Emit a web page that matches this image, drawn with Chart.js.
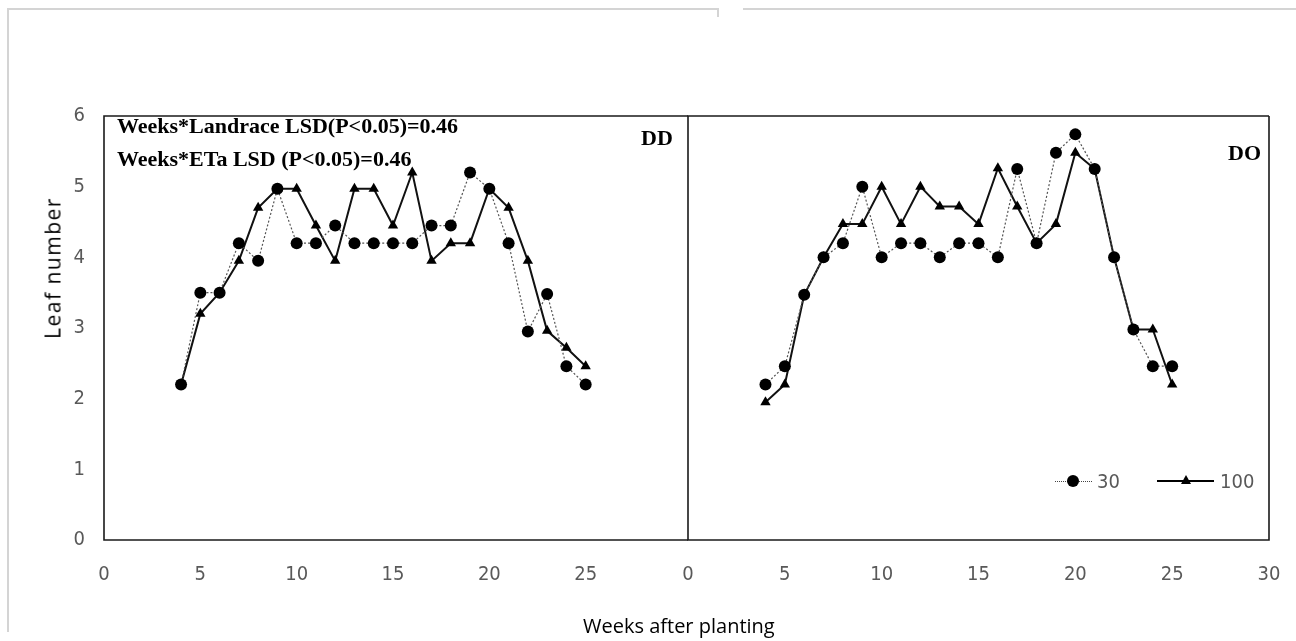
<!DOCTYPE html>
<html>
<head>
<meta charset="utf-8">
<script src="https://cdn.jsdelivr.net/npm/chart.js@4.4.1/dist/chart.umd.min.js"></script>
<style>
  html, body { margin: 0; padding: 0; background: #fff; }
  #page { position: relative; width: 1296px; height: 641px; overflow: hidden; }
  canvas { position: absolute; top: 0; }
  #left-canvas { left: 0; }
  #right-canvas { left: 680px; }
  .frame { position: absolute; background: #d4d4d4; }
  .note { position: absolute; font-family: "Liberation Serif", "Times New Roman", serif; font-weight: bold; color: #000; white-space: nowrap; line-height: 1; }
  .axis-title { position: absolute; font-family: "Open Sans", sans-serif; color: #000; white-space: nowrap; line-height: 1; }
  .legend-text { position: absolute; font-family: "Liberation Sans Narrow", "DejaVu Sans Condensed", sans-serif; font-size: 20px; color: #595959; line-height: 1; }
</style>
</head>
<body>
<div id="page">
  <div class="frame" style="left:7px; top:8px; width:712px; height:2px;"></div>
  <div class="frame" style="left:717px; top:8px; width:2px; height:9px;"></div>
  <div class="frame" style="left:743px; top:8px; width:553px; height:2px;"></div>
  <div class="frame" style="left:7px; top:8px; width:2px; height:624px;"></div>

  <canvas id="left-canvas" width="688" height="641"></canvas>
  <canvas id="right-canvas" width="616" height="641"></canvas>

  <div class="note" style="left:117px; top:115px; font-size:22px;">Weeks*Landrace LSD(P&lt;0.05)=0.46</div>
  <div class="note" style="left:117px; top:148px; font-size:22px;">Weeks*ETa LSD (P&lt;0.05)=0.46</div>
  <div class="note" style="left:641px; top:127px; font-size:22px;">DD</div>
  <div class="note" style="left:1228px; top:142px; font-size:22px;">DO</div>

  <div class="axis-title" style="left:583px; top:616px; font-size:20px;">Weeks after planting</div>
  <div class="axis-title" style="left:53px; top:268px; font-size:21px; letter-spacing:1.5px; transform: translate(-50%, -50%) rotate(-90deg);">Leaf number</div>

  <div style="position:absolute; left:1055px; top:481px; width:37px; border-top:1px dotted #444;"></div>
  <div style="position:absolute; left:1067px; top:475px; width:12px; height:12px; border-radius:50%; background:#000;"></div>
  <div class="legend-text" style="left:1097px; top:471px;">30</div>
  <div style="position:absolute; left:1157px; top:480px; width:57px; height:2px; background:#000;"></div>
  <div style="position:absolute; left:1181px; top:475px; width:0; height:0; border-left:5px solid transparent; border-right:5px solid transparent; border-bottom:9px solid #000;"></div>
  <div class="legend-text" style="left:1220px; top:471px;">100</div>
</div>

<script>
  const weeks = [4, 5, 6, 7, 8, 9, 10, 11, 12, 13, 14, 15, 16, 17, 18, 19, 20, 21, 22, 23, 24, 25];

  // DD panel
  const dd30 = [2.2, 3.5, 3.5, 4.2, 3.95, 4.97, 4.2, 4.2, 4.45, 4.2, 4.2, 4.2, 4.2, 4.45, 4.45, 5.2, 4.97, 4.2, 2.95, 3.48, 2.46, 2.2];
  const dd100 = [2.2, 3.2, 3.5, 3.95, 4.7, 4.97, 4.97, 4.45, 3.95, 4.97, 4.97, 4.45, 5.2, 3.95, 4.2, 4.2, 4.97, 4.7, 3.95, 2.96, 2.72, 2.46];

  // DO panel
  const do30 = [2.2, 2.46, 3.47, 4.0, 4.2, 5.0, 4.0, 4.2, 4.2, 4.0, 4.2, 4.2, 4.0, 5.25, 4.2, 5.48, 5.74, 5.25, 4.0, 2.98, 2.46, 2.46];
  const do100 = [1.95, 2.2, 3.47, 4.0, 4.47, 4.47, 5.0, 4.47, 5.0, 4.72, 4.72, 4.47, 5.26, 4.72, 4.2, 4.47, 5.48, 5.25, 4.0, 2.98, 2.98, 2.2];

  const seriesNames = ["30", "100"];
  const xMin = 0, xMax = 30, xStep = 5;
  const yMin = 0, yMax = 6, yStep = 1;

  const tickFont = { family: "'Liberation Sans Narrow', 'DejaVu Sans Condensed', sans-serif", size: 20 };
  const tickColor = "#595959";

  // plot frame; the left panel leaves its right side open and runs its top line on to the next panel
  const boxPlugin = {
    id: "box",
    afterDraw(chart, args, opts) {
      const { ctx, chartArea: a } = chart;
      const extra = opts.extendRight || 0;
      ctx.save();
      ctx.strokeStyle = "#1a1a1a";
      ctx.lineWidth = 1.6;
      ctx.beginPath();
      ctx.moveTo(a.right + extra, a.top);
      ctx.lineTo(a.left, a.top);
      ctx.lineTo(a.left, a.bottom);
      ctx.lineTo(a.right + extra, a.bottom);
      if (!opts.openRight) ctx.lineTo(a.right, a.top);
      ctx.stroke();
      ctx.restore();
    }
  };

  function points(values) {
    return weeks.map((w, i) => ({ x: w, y: values[i] }));
  }

  function lowDataset(values) {
    return {
      label: seriesNames[0],
      data: points(values),
      showLine: true,
      borderColor: "#555",
      borderWidth: 1.2,
      borderDash: [2, 2],
      pointStyle: "circle",
      pointRadius: 6,
      pointBackgroundColor: "#000",
      pointBorderColor: "#000",
      pointBorderWidth: 0
    };
  }

  function highDataset(values) {
    return {
      label: seriesNames[1],
      data: points(values),
      showLine: true,
      borderColor: "#111",
      borderWidth: 2,
      pointStyle: "triangle",
      pointRadius: 6,
      pointBackgroundColor: "#000",
      pointBorderColor: "#000",
      pointBorderWidth: 0
    };
  }

  function makeChart(canvasId, low, high, opts) {
    return new Chart(document.getElementById(canvasId), {
      type: "scatter",
      data: { datasets: [lowDataset(low), highDataset(high)] },
      options: {
        responsive: false,
        animation: false,
        layout: { padding: opts.padding },
        plugins: {
          legend: { display: false },
          tooltip: { enabled: false },
          box: opts.box
        },
        scales: {
          x: {
            type: "linear",
            min: xMin,
            max: xMax,
            afterFit(scale) {
              scale.height = 60;
              scale.paddingLeft = 0;
              scale.paddingRight = 0;
            },
            grid: { display: false, drawTicks: false },
            border: { display: false },
            ticks: {
              stepSize: xStep,
              padding: 23,
              font: tickFont,
              color: tickColor,
              callback: opts.xLabel
            }
          },
          y: {
            display: opts.showY,
            min: yMin,
            max: yMax,
            afterFit(scale) {
              scale.width = opts.yWidth;
              scale.paddingTop = 0;
              scale.paddingBottom = 0;
            },
            grid: { display: false, drawTicks: false },
            border: { display: false },
            ticks: {
              stepSize: yStep,
              padding: 19,
              font: tickFont,
              color: tickColor
            }
          }
        }
      },
      plugins: [boxPlugin]
    });
  }

  makeChart("left-canvas", dd30, dd100, {
    padding: { top: 116, right: 2, bottom: 41, left: 0 },
    showY: true,
    yWidth: 104,
    box: { openRight: true, extendRight: 6 },
    xLabel: v => (v === xMax ? "" : v)
  });

  makeChart("right-canvas", do30, do100, {
    padding: { top: 116, right: 27, bottom: 41, left: 8 },
    showY: false,
    yWidth: 0,
    box: { openRight: false, extendRight: 0 },
    xLabel: v => v
  });
</script>
</body>
</html>
